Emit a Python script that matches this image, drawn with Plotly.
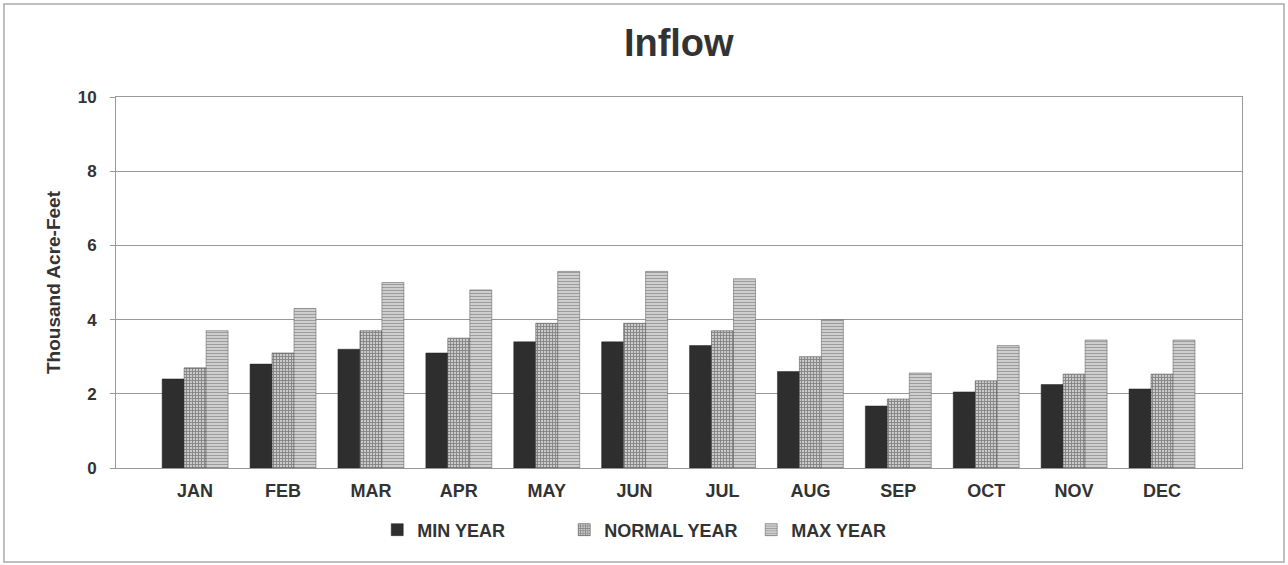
import plotly.graph_objects as go

# dane
months = ["JAN", "FEB", "MAR", "APR", "MAY", "JUN", "JUL", "AUG", "SEP", "OCT", "NOV", "DEC"]
min_year = [2.4, 2.8, 3.2, 3.1, 3.4, 3.4, 3.3, 2.6, 1.67, 2.05, 2.25, 2.13]
normal_year = [2.7, 3.1, 3.7, 3.5, 3.9, 3.9, 3.7, 3.0, 1.86, 2.35, 2.53, 2.53]
max_year = [3.7, 4.3, 5.0, 4.8, 5.3, 5.3, 5.1, 4.0, 2.56, 3.3, 3.45, 3.45]
y_ticks = [0, 2, 4, 6, 8, 10]

fig = go.Figure()

fig.add_trace(go.Bar(
    x=months, y=min_year, name="MIN YEAR",
    marker=dict(color="#2e2e2e", line=dict(color="#222", width=0.5))
))
fig.add_trace(go.Bar(
    x=months, y=normal_year, name="NORMAL YEAR",
    marker=dict(color="#c8c8c8", line=dict(color="#444", width=0.5),
                pattern=dict(shape="+", fgcolor="#3a3a3a", bgcolor="#cacaca", size=3, solidity=0.5))
))
fig.add_trace(go.Bar(
    x=months, y=max_year, name="MAX YEAR",
    marker=dict(color="#dcdcdc", line=dict(color="#555", width=0.5),
                pattern=dict(shape="-", fgcolor="#5a5a5a", bgcolor="#dedede", size=3, solidity=0.5))
))

fig.update_layout(
    width=1288, height=565,
    margin=dict(l=116, r=46, t=97, b=97),
    paper_bgcolor="white",
    plot_bgcolor="white",
    font=dict(family="Liberation Sans, Arial", color="#333"),
    title=dict(text="<b>Inflow</b>", x=0.527, xanchor="center", y=0.925, yanchor="middle",
               font=dict(size=38, color="#333")),
    barmode="group",
    bargap=0.25,
    bargroupgap=0,
    showlegend=True,
    legend=dict(orientation="h", x=0.232, xanchor="left", y=-0.167, yanchor="middle",
                font=dict(size=18, color="#333", weight="bold"), itemwidth=30,
                entrywidth=142, traceorder="normal"),
    xaxis=dict(
        range=[-0.9, 11.91],
        showline=True, linecolor="#999", linewidth=1, mirror=True,
        ticks="", tickfont=dict(size=18, color="#333", weight="bold"),
        ticklabelstandoff=6,
        showgrid=False,
    ),
    yaxis=dict(
        range=[0, 10], tickvals=y_ticks,
        showline=True, linecolor="#999", linewidth=1, mirror=True,
        showgrid=True, gridcolor="#999", gridwidth=1,
        ticks="outside", ticklen=5, tickcolor="#999",
        tickfont=dict(size=17, color="#333", weight="bold"),
        ticklabelstandoff=10,
        title=dict(text="<b>Thousand Acre-Feet</b>", font=dict(size=19, color="#333"), standoff=12),
        zeroline=False,
    ),
)

# ramka wokol calego wykresu
fig.add_shape(type="rect", xref="paper", yref="paper",
              x0=-0.0995, x1=1.0373, y0=-0.2534, y1=1.2507,
              line=dict(color="#aaa", width=1.5), layer="below")

fig.write_html("out.html", config={"displayModeBar": False},
               post_script="document.body.style.margin='0';")
